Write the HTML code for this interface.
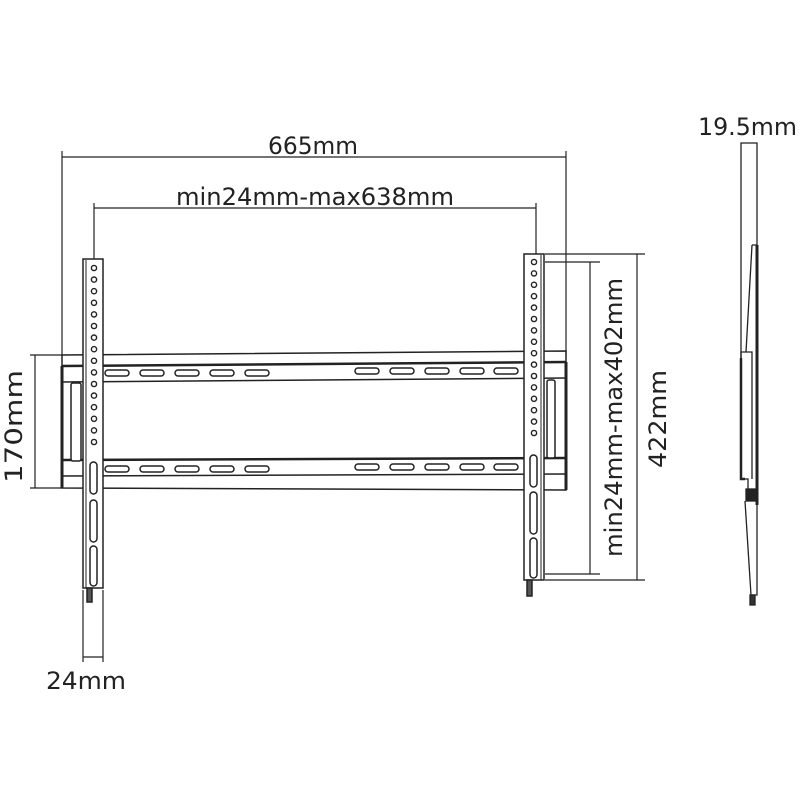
<!DOCTYPE html>
<html><head><meta charset="utf-8"><style>
html,body{margin:0;padding:0;background:#fff;}
svg{display:block;}
text{font-family:"DejaVu Sans","Liberation Sans",sans-serif;fill:#222;font-size:24px;}
</style></head><body>
<svg width="800" height="800" viewBox="0 0 800 800" xmlns="http://www.w3.org/2000/svg">
<g stroke="#222" fill="none" stroke-width="1.2">
<line x1="62" y1="157" x2="566" y2="157"/>
<line x1="62" y1="151" x2="62" y2="356"/>
<line x1="566" y1="151" x2="566" y2="356"/>
<line x1="94" y1="208" x2="536" y2="208"/>
<line x1="94" y1="203" x2="94" y2="262"/>
<line x1="536" y1="203" x2="536" y2="256"/>
<line x1="30" y1="355" x2="62" y2="355"/>
<line x1="30" y1="488" x2="62" y2="488"/>
<line x1="35" y1="355" x2="35" y2="488"/>
<line x1="83" y1="590" x2="83" y2="662"/>
<line x1="103" y1="590" x2="103" y2="662"/>
<line x1="83" y1="657" x2="103" y2="657"/>
<line x1="545" y1="262" x2="600" y2="262"/>
<line x1="545" y1="574" x2="600" y2="574"/>
<line x1="590" y1="262" x2="590" y2="574"/>
<line x1="545" y1="254" x2="645" y2="254"/>
<line x1="545" y1="580" x2="645" y2="580"/>
<line x1="637" y1="254" x2="637" y2="580"/>
</g>
<g stroke="#222" fill="#fff" stroke-width="1.5">
<path d="M62 355 L566 351 L566 490 L62 488 Z" fill="#fff"/>
<line x1="62" y1="366" x2="566" y2="362" stroke-width="2.5"/>
<line x1="62" y1="382" x2="566" y2="378"/>
<line x1="62" y1="460" x2="566" y2="458" stroke-width="2.5"/>
<line x1="62" y1="476" x2="566" y2="474"/>
<line x1="62" y1="366" x2="62" y2="488" stroke-width="3"/>
<line x1="566" y1="362" x2="566" y2="490" stroke-width="3"/>
<rect x="71" y="383" width="10" height="78" rx="2"/>
<rect x="547" y="380" width="8" height="78" rx="2"/>
</g>
<g stroke="#222" fill="#fff" stroke-width="1.5">
<rect x="105" y="370" width="24" height="6" rx="3"/><rect x="140" y="370" width="24" height="6" rx="3"/><rect x="175" y="370" width="24" height="6" rx="3"/><rect x="210" y="370" width="24" height="6" rx="3"/><rect x="245" y="370" width="24" height="6" rx="3"/>
<rect x="355" y="368" width="24" height="6" rx="3"/><rect x="390" y="368" width="24" height="6" rx="3"/><rect x="425" y="368" width="24" height="6" rx="3"/><rect x="460" y="368" width="24" height="6" rx="3"/><rect x="494" y="368" width="24" height="6" rx="3"/>
<rect x="105" y="466" width="24" height="6" rx="3"/><rect x="140" y="466" width="24" height="6" rx="3"/><rect x="175" y="466" width="24" height="6" rx="3"/><rect x="210" y="466" width="24" height="6" rx="3"/><rect x="245" y="466" width="24" height="6" rx="3"/>
<rect x="355" y="464" width="24" height="6" rx="3"/><rect x="390" y="464" width="24" height="6" rx="3"/><rect x="425" y="464" width="24" height="6" rx="3"/><rect x="460" y="464" width="24" height="6" rx="3"/><rect x="494" y="464" width="24" height="6" rx="3"/>
</g>
<g stroke="#222" fill="#fff" stroke-width="1.5">
<rect x="83" y="259" width="20" height="329"/>
<line x1="86" y1="260" x2="86" y2="588" stroke-width="1"/>
<rect x="87" y="588" width="5" height="14" fill="#555"/>
<rect x="90" y="462" width="7" height="32" rx="3.5"/>
<rect x="90" y="500" width="7" height="42" rx="3.5"/>
<rect x="90" y="546" width="7" height="40" rx="3.5"/>
</g>
<g stroke="#222" fill="#fff" stroke-width="1.4">
<circle cx="94" cy="268" r="2.6"/><circle cx="94" cy="279.6" r="2.6"/><circle cx="94" cy="291.2" r="2.6"/><circle cx="94" cy="302.8" r="2.6"/><circle cx="94" cy="314.4" r="2.6"/><circle cx="94" cy="326" r="2.6"/><circle cx="94" cy="337.6" r="2.6"/><circle cx="94" cy="349.2" r="2.6"/><circle cx="94" cy="360.8" r="2.6"/><circle cx="94" cy="372.4" r="2.6"/><circle cx="94" cy="384" r="2.6"/><circle cx="94" cy="395.6" r="2.6"/><circle cx="94" cy="407.2" r="2.6"/><circle cx="94" cy="418.8" r="2.6"/><circle cx="94" cy="430.4" r="2.6"/><circle cx="94" cy="442" r="2.6"/>
</g>
<g stroke="#222" fill="#fff" stroke-width="1.5">
<rect x="524" y="254" width="20" height="326"/>
<line x1="541" y1="255" x2="541" y2="580" stroke-width="1"/>
<rect x="527" y="580" width="5" height="16" fill="#555"/>
<rect x="530" y="455" width="7" height="32" rx="3.5"/>
<rect x="530" y="492" width="7" height="42" rx="3.5"/>
<rect x="530" y="538" width="7" height="40" rx="3.5"/>
</g>
<g stroke="#222" fill="#fff" stroke-width="1.4">
<circle cx="534" cy="262" r="2.6"/><circle cx="534" cy="273.4" r="2.6"/><circle cx="534" cy="284.8" r="2.6"/><circle cx="534" cy="296.2" r="2.6"/><circle cx="534" cy="307.6" r="2.6"/><circle cx="534" cy="319" r="2.6"/><circle cx="534" cy="330.4" r="2.6"/><circle cx="534" cy="341.8" r="2.6"/><circle cx="534" cy="353.2" r="2.6"/><circle cx="534" cy="364.6" r="2.6"/><circle cx="534" cy="376" r="2.6"/><circle cx="534" cy="387.4" r="2.6"/><circle cx="534" cy="398.8" r="2.6"/><circle cx="534" cy="410.2" r="2.6"/><circle cx="534" cy="421.6" r="2.6"/><circle cx="534" cy="433" r="2.6"/>
</g>
<g stroke="#222" fill="none" stroke-width="1.3">
<path d="M741 358 L741 143 L757 143 L757 245"/>
<path d="M757 245 L757 505" stroke-width="3"/>
<path d="M752 245 L757 245 M752 245 L746 352 L741 352 L741 358"/>
<path d="M741 358 L741 479 L745 479" stroke-width="2.5"/>
<path d="M746 352 L752 352 L752 479"/>
<path d="M745 479 L748 479 L748 492 L757 492"/>
<rect x="746" y="489" width="10" height="12" fill="#222"/>
<path d="M745 501 L751 595 L757 595 L757 501"/>
<rect x="750" y="595" width="5" height="10" fill="#333"/>
</g>
<text x="268" y="154" textLength="90" lengthAdjust="spacingAndGlyphs">665mm</text>
<text x="176" y="205" textLength="278" lengthAdjust="spacingAndGlyphs">min24mm-max638mm</text>
<text x="698" y="135" textLength="99" lengthAdjust="spacingAndGlyphs">19.5mm</text>
<text x="46" y="689" textLength="80" lengthAdjust="spacingAndGlyphs">24mm</text>
<text transform="translate(22,483) rotate(-90)" textLength="113" lengthAdjust="spacingAndGlyphs">170mm</text>
<text transform="translate(622,557) rotate(-90)" textLength="279" lengthAdjust="spacingAndGlyphs">min24mm-max402mm</text>
<text transform="translate(666,468) rotate(-90)" textLength="98" lengthAdjust="spacingAndGlyphs">422mm</text>
</svg>
</body></html>
